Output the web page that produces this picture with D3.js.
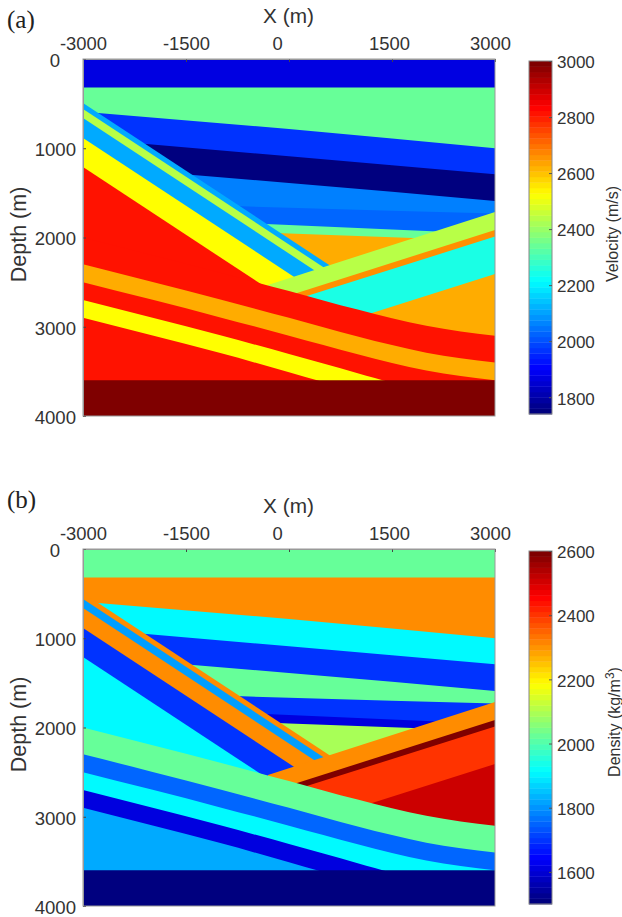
<!DOCTYPE html>
<html>
<head>
<meta charset="utf-8">
<script src="https://cdn.jsdelivr.net/npm/d3@7/dist/d3.min.js"></script>
<style>
html, body { margin: 0; padding: 0; background: #fff; }
svg { display: block; }
text { font-family: "Liberation Sans", Arial, sans-serif; fill: #333; }
</style>
</head>
<body>
<div id="chart"></div>
<script>
// ticks
var xTicks = [-3000, -1500, 0, 1500, 3000]
var depthTicks = [0, 1000, 2000, 3000, 4000]
var velocityTicks = [1800, 2000, 2200, 2400, 2600, 2800, 3000]
var densityTicks = [1600, 1800, 2000, 2200, 2400, 2600]
var velocityRange = [1740, 3000]
var densityRange = [1500, 2600]

// top of each flat layer, [x, depth]
var surface = [[-3000, 0], [3000, 0]]
var flat1 = [[-3000, 320], [3000, 320]]
var flat2 = [[-3000, 590], [0, 785], [3000, 1000]]
var flat3 = [[-3000, 890], [0, 1090], [3000, 1290]]
var flat4 = [[-3000, 1200], [0, 1390], [3000, 1590]]
var flat5 = [[-3000, 1580], [0, 1668], [3000, 1730]]
var flat6 = [[-3000, 1770], [0, 1860], [3000, 1960]]
var flat7 = [[-3000, 1880], [0, 1955], [3000, 2040]]

// dipping beds on the left of the fault
var dip0 = [[-3000, 493], [800, 2417]]
var dip1 = [[-3000, 560], [800, 2484]]
var dip2 = [[-3000, 661], [800, 2585]]
var dip3 = [[-3000, 885], [800, 2809]]
var dip4 = [[-3000, 1210], [800, 3134]]

// beds rising to the right
var rise0 = [[-306, 2532], [3000, 1714]]
var rise1 = [[-306, 2725], [3000, 1916]]
var rise2 = [[-306, 2792], [3000, 1990]]
var rise3 = [[-306, 3215], [3000, 2409]]

// curved beds
var curve0 = [[-3000, 2000], [-2000, 2195], [-1000, 2395], [0, 2600], [500, 2705], [1000, 2808], [1500, 2905], [2000, 2990], [2500, 3052], [3000, 3100]]
var curve1 = [[-3000, 2300], [-2000, 2495], [-1000, 2695], [0, 2900], [500, 3005], [1000, 3108], [1500, 3205], [2000, 3290], [2500, 3352], [3000, 3400]]
var curve2 = [[-3000, 2500], [-2000, 2695], [-1000, 2895], [0, 3100], [500, 3205], [1000, 3308], [1500, 3405], [2000, 3490], [2500, 3552], [3000, 3600]]
var curve3 = [[-3000, 2700], [-2000, 2895], [-1000, 3095], [0, 3305], [500, 3412], [1000, 3520], [1500, 3625], [2000, 3700], [2500, 3760], [3000, 3800]]
var curve4 = [[-3000, 2900], [-2000, 3095], [-1000, 3295], [0, 3510], [500, 3620], [1000, 3725], [1500, 3810], [2000, 3890], [2500, 3950], [3000, 4000]]
var base = [[-3000, 3600], [3000, 3600]]

// painted in this order, each one from its line down to the bottom
var layerLines = [surface, flat1, flat2, flat3, flat4, flat5, flat6, flat7,
    dip0, dip1, dip2, dip3, dip4,
    rise0, rise1, rise2, rise3,
    curve0, curve1, curve2, curve3, curve4, base]
var velocityValues = [1860, 2340, 1960, 1740, 2055, 2023, 2340, 2630,
    2108, 2440, 2108, 2527, 2820,
    2440, 2666, 2244, 2630,
    2820, 2630, 2820, 2527, 2820, 3000]
var densityValues = [2022, 2311, 1907, 1692, 2022, 1692, 1603, 2094,
    2311, 1808, 2311, 1692, 1907,
    2311, 2600, 2407, 2517,
    2022, 1748, 1907, 1603, 1821, 1500]

var width = 622, height = 917
var plotWidth = 412, plotHeight = 357

var jet = d3.scaleLinear()
    .domain([0, 0.125, 0.375, 0.625, 0.875, 1])
    .range(["#00007f", "#0000ff", "#00ffff", "#ffff00", "#ff0000", "#7f0000"])

var svg = d3.select("#chart").append("svg")
    .attr("width", width)
    .attr("height", height)

// the tick labels of the top axis do not sit quite over their ticks
function xLabelShift(d) {
    if (d === 0) return -12
    if (d === 1500) return -3
    if (d === 3000) return -5
    return 0
}

function drawPanel(top, letter, letterY, values, range, ticks) {
    var g = svg.append("g").attr("transform", "translate(83," + top + ")")
    var x = d3.scaleLinear().domain([-3000, 3000]).range([0, plotWidth])
    var y = d3.scaleLinear().domain([0, 4000]).range([0, plotHeight])
    var toJet = d3.scaleLinear().domain(range).range([0, 1])

    var area = d3.area()
        .x(function (d) { return x(d[0]) })
        .y0(y(4000))
        .y1(function (d) { return y(d[1]) })
        .curve(d3.curveMonotoneX)

    g.selectAll("path.layer")
        .data(layerLines)
        .join("path")
        .attr("class", "layer")
        .attr("d", area)
        .attr("fill", function (d, i) { return jet(toJet(values[i])) })

    var xAxis = g.append("g")
        .call(d3.axisTop(x).tickValues(xTicks).tickFormat(String).tickSizeInner(-3).tickSizeOuter(0).tickPadding(9))
    var yAxis = g.append("g")
        .call(d3.axisLeft(y).tickValues(depthTicks).tickFormat(String).tickSizeInner(-3).tickSizeOuter(0).tickPadding(7))

    xAxis.selectAll("text")
        .attr("dx", xLabelShift)
        .style("font-size", "18.4px")
    yAxis.selectAll("text")
        .attr("dy", "0.4em")
        .attr("x", function (d) { return d === 0 ? -23 : -7 })
        .style("font-size", "18.6px")
    g.selectAll(".tick line").attr("stroke", "#444")
    g.selectAll(".domain").attr("stroke", "#999")

    g.append("rect")
        .attr("width", plotWidth)
        .attr("height", plotHeight)
        .attr("fill", "none")
        .attr("stroke", "#999")

    g.append("text")
        .attr("x", plotWidth / 2 - 0.5)
        .attr("y", -36)
        .attr("text-anchor", "middle")
        .style("font-size", "20.8px")
        .text("X (m)")

    g.append("text")
        .attr("transform", "translate(-57," + (plotHeight / 2 - 3) + ") rotate(-90)")
        .attr("text-anchor", "middle")
        .style("font-size", "21.5px")
        .text("Depth (m)")

    svg.append("text")
        .attr("x", 7)
        .attr("y", letterY)
        .style("font-family", "'Liberation Serif', serif")
        .style("font-size", "25px")
        .style("fill", "#222")
        .text(letter)

    // colorbar
    var barY = d3.scaleLinear().domain(range).range([plotHeight - 2, 2])
    var bar = svg.append("g").attr("transform", "translate(529," + top + ")")
    var levels = d3.range(64)
    var band = d3.scaleBand().domain(levels).range([plotHeight - 2, 2])
    bar.selectAll("rect")
        .data(levels)
        .join("rect")
        .attr("y", function (d) { return band(d) })
        .attr("width", 23)
        .attr("height", band.bandwidth() + 0.4)
        .attr("fill", function (d) { return jet(d / 63) })
    bar.append("rect")
        .attr("y", 2)
        .attr("width", 23)
        .attr("height", plotHeight - 4)
        .attr("fill", "none")
        .attr("stroke", "#888")
    var barAxis = bar.append("g")
        .attr("transform", "translate(23,0)")
        .call(d3.axisRight(barY).tickValues(ticks).tickFormat(String).tickSizeInner(-3).tickSizeOuter(0).tickPadding(5))
    barAxis.select(".domain").remove()
    barAxis.selectAll("line").attr("stroke", "#555")
    barAxis.selectAll("text")
        .attr("dy", "0.4em")
        .style("font-size", "17px")
    return bar
}

var barA = drawPanel(59, "(a)", 28, velocityValues, velocityRange, velocityTicks)
var barB = drawPanel(549, "(b)", 508, densityValues, densityRange, densityTicks)

barA.append("text")
    .attr("transform", "translate(89,175) rotate(-90)")
    .attr("text-anchor", "middle")
    .style("font-size", "16px")
    .text("Velocity (m/s)")

var densityLabel = barB.append("text")
    .attr("transform", "translate(91,173) rotate(-90)")
    .attr("text-anchor", "middle")
    .style("font-size", "16px")
densityLabel.append("tspan").text("Density (kg/m")
densityLabel.append("tspan").attr("dy", -6).style("font-size", "12px").text("3")
densityLabel.append("tspan").attr("dy", 6).text(")")
</script>
</body>
</html>
